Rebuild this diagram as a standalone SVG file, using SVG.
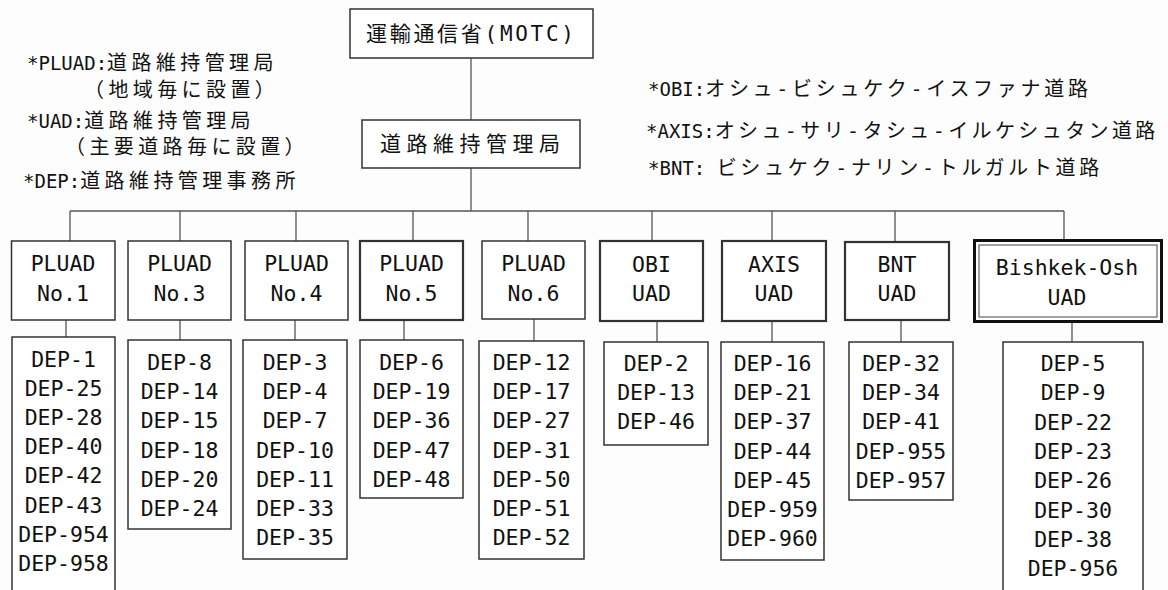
<svg xmlns="http://www.w3.org/2000/svg" width="1168" height="590" viewBox="0 0 1168 590">
<style>
.bg{fill:#fdfdfd}
.box{fill:#fff;stroke:#333;stroke-width:1.5}
.thick{stroke-width:2.2}
.conn line{stroke:#555;stroke-width:1.3}
.lbl{font-family:"DejaVu Sans Mono","Liberation Mono",monospace;font-size:21.5px;fill:#111;text-anchor:middle}
.jp{font-family:"DejaVu Sans Mono","Noto Sans CJK JP",sans-serif;font-size:21px;fill:#111;text-anchor:middle}
.note{font-family:"DejaVu Sans Mono","Noto Sans CJK JP",monospace;font-size:20px;fill:#111}
.lat{font-size:19px}
.cjk{letter-spacing:3.7px}
.cjka{letter-spacing:3.4px}
.cjkl{letter-spacing:4.4px}
</style>
<rect class="bg" x="0" y="0" width="1168" height="590"/>

<g id="notes-left">
<text class="note" x="27" y="69.5"><tspan class="lat">*PLUAD:</tspan><tspan class="cjkl">道路維持管理局</tspan></text>
<text class="note cjkl" x="84" y="97">（地域毎に設置）</text>
<text class="note" x="27" y="127.5"><tspan class="lat">*UAD:</tspan><tspan class="cjkl">道路維持管理局</tspan></text>
<text class="note cjkl" x="65" y="154">（主要道路毎に設置）</text>
<text class="note" x="23" y="187.5"><tspan class="lat">*DEP:</tspan><tspan class="cjkl">道路維持管理事務所</tspan></text>
</g>

<g id="notes-right">
<text class="note" x="648" y="95.5"><tspan class="lat">*OBI:</tspan><tspan class="cjk">オシュ-ビシュケク-イスファナ道路</tspan></text>
<text class="note" x="646" y="137.5"><tspan class="lat">*AXIS:</tspan><tspan class="cjka">オシュ-サリ-タシュ-イルケシュタン道路</tspan></text>
<text class="note" x="648" y="174.5"><tspan class="lat">*BNT: </tspan><tspan class="cjk">ビシュケク-ナリン-トルガルト道路</tspan></text>
</g>

<g id="connectors" class="conn">
<line x1="471" y1="58" x2="471" y2="120"/>
<line x1="471" y1="168" x2="471" y2="211"/>
<line x1="70" y1="211" x2="1064" y2="211"/>
<line x1="70" y1="211" x2="70" y2="241"/>
<line x1="180" y1="211" x2="180" y2="241"/>
<line x1="296" y1="211" x2="296" y2="241"/>
<line x1="413" y1="211" x2="413" y2="241"/>
<line x1="528" y1="211" x2="528" y2="241"/>
<line x1="652" y1="211" x2="652" y2="241"/>
<line x1="772" y1="211" x2="772" y2="241"/>
<line x1="895" y1="211" x2="895" y2="242"/>
<line x1="1064" y1="211" x2="1064" y2="239"/>
<line x1="66" y1="320" x2="66" y2="337"/>
<line x1="180" y1="320" x2="180" y2="340"/>
<line x1="295" y1="320" x2="295" y2="340"/>
<line x1="404" y1="320" x2="404" y2="340"/>
<line x1="534" y1="319" x2="534" y2="341"/>
<line x1="657" y1="321" x2="657" y2="342"/>
<line x1="772" y1="321" x2="772" y2="342"/>
<line x1="901" y1="320" x2="901" y2="342"/>
<line x1="1072" y1="323" x2="1072" y2="342"/>
</g>

<g id="motc">
<rect class="box" x="350" y="9" width="243" height="49"/>
<text class="jp" x="470" y="41" textLength="208" lengthAdjust="spacing">運輸通信省(MOTC)</text>
</g>
<g id="doro">
<rect class="box" x="362" y="120" width="218" height="48"/>
<text class="jp" x="470" y="151" textLength="180" lengthAdjust="spacing">道路維持管理局</text>
</g>

<g id="pluad1">
<rect class="box" x="11.5" y="241" width="103.5" height="79"/>
<text class="lbl" x="63" y="271">PLUAD</text>
<text class="lbl" x="63" y="301">No.1</text>
</g>
<g id="pluad3">
<rect class="box" x="128" y="241" width="103" height="79"/>
<text class="lbl" x="179.5" y="271">PLUAD</text>
<text class="lbl" x="179.5" y="301">No.3</text>
</g>
<g id="pluad4">
<rect class="box" x="245" y="241" width="103" height="79"/>
<text class="lbl" x="296.5" y="271">PLUAD</text>
<text class="lbl" x="296.5" y="301">No.4</text>
</g>
<g id="pluad5">
<rect class="box thick" x="360" y="241" width="103" height="79"/>
<text class="lbl" x="411.5" y="271">PLUAD</text>
<text class="lbl" x="411.5" y="301">No.5</text>
</g>
<g id="pluad6">
<rect class="box" x="482" y="241" width="103" height="78"/>
<text class="lbl" x="533.5" y="271">PLUAD</text>
<text class="lbl" x="533.5" y="301">No.6</text>
</g>
<g id="obi">
<rect class="box thick" x="600" y="241" width="103" height="80"/>
<text class="lbl" x="651.5" y="272">OBI</text>
<text class="lbl" x="651.5" y="301">UAD</text>
</g>
<g id="axis">
<rect class="box thick" x="722" y="241" width="104" height="80"/>
<text class="lbl" x="774" y="272">AXIS</text>
<text class="lbl" x="774" y="301">UAD</text>
</g>
<g id="bnt">
<rect class="box thick" x="845" y="242" width="104" height="78"/>
<text class="lbl" x="897" y="272">BNT</text>
<text class="lbl" x="897" y="301">UAD</text>
</g>
<g id="bishkek-osh">
<rect x="974.5" y="240.5" width="187" height="81" fill="#fff" stroke="#111" stroke-width="3"/>
<rect x="979" y="245" width="178" height="72" fill="none" stroke="#444" stroke-width="1"/>
<text class="lbl" x="1067" y="275">Bishkek-Osh</text>
<text class="lbl" x="1067" y="305">UAD</text>
</g>

<g id="dep-pluad1">
<rect class="box" x="12" y="337" width="103" height="270"/>
<text class="lbl" x="63.5" y="367">DEP-1</text>
<text class="lbl" x="63.5" y="396.1">DEP-25</text>
<text class="lbl" x="63.5" y="425.2">DEP-28</text>
<text class="lbl" x="63.5" y="454.3">DEP-40</text>
<text class="lbl" x="63.5" y="483.4">DEP-42</text>
<text class="lbl" x="63.5" y="512.5">DEP-43</text>
<text class="lbl" x="63.5" y="541.6">DEP-954</text>
<text class="lbl" x="63.5" y="570.7">DEP-958</text>
</g>
<g id="dep-pluad3">
<rect class="box" x="128" y="340" width="103" height="189"/>
<text class="lbl" x="179.5" y="370">DEP-8</text>
<text class="lbl" x="179.5" y="399.2">DEP-14</text>
<text class="lbl" x="179.5" y="428.4">DEP-15</text>
<text class="lbl" x="179.5" y="457.6">DEP-18</text>
<text class="lbl" x="179.5" y="486.8">DEP-20</text>
<text class="lbl" x="179.5" y="516">DEP-24</text>
</g>
<g id="dep-pluad4">
<rect class="box" x="243" y="340" width="104" height="219"/>
<text class="lbl" x="295" y="370">DEP-3</text>
<text class="lbl" x="295" y="399.2">DEP-4</text>
<text class="lbl" x="295" y="428.4">DEP-7</text>
<text class="lbl" x="295" y="457.6">DEP-10</text>
<text class="lbl" x="295" y="486.8">DEP-11</text>
<text class="lbl" x="295" y="516">DEP-33</text>
<text class="lbl" x="295" y="545.2">DEP-35</text>
</g>
<g id="dep-pluad5">
<rect class="box" x="360" y="340" width="103" height="158"/>
<text class="lbl" x="411.5" y="370">DEP-6</text>
<text class="lbl" x="411.5" y="399.2">DEP-19</text>
<text class="lbl" x="411.5" y="428.4">DEP-36</text>
<text class="lbl" x="411.5" y="457.6">DEP-47</text>
<text class="lbl" x="411.5" y="486.8">DEP-48</text>
</g>
<g id="dep-pluad6">
<rect class="box" x="479" y="341" width="105" height="218"/>
<text class="lbl" x="531.5" y="370">DEP-12</text>
<text class="lbl" x="531.5" y="399.2">DEP-17</text>
<text class="lbl" x="531.5" y="428.4">DEP-27</text>
<text class="lbl" x="531.5" y="457.6">DEP-31</text>
<text class="lbl" x="531.5" y="486.8">DEP-50</text>
<text class="lbl" x="531.5" y="516">DEP-51</text>
<text class="lbl" x="531.5" y="545.2">DEP-52</text>
</g>
<g id="dep-obi">
<rect class="box" x="604" y="342" width="104" height="103"/>
<text class="lbl" x="656" y="371">DEP-2</text>
<text class="lbl" x="656" y="400.2">DEP-13</text>
<text class="lbl" x="656" y="429.4">DEP-46</text>
</g>
<g id="dep-axis">
<rect class="box" x="721" y="342" width="103" height="218"/>
<text class="lbl" x="772.5" y="371">DEP-16</text>
<text class="lbl" x="772.5" y="400.2">DEP-21</text>
<text class="lbl" x="772.5" y="429.4">DEP-37</text>
<text class="lbl" x="772.5" y="458.6">DEP-44</text>
<text class="lbl" x="772.5" y="487.8">DEP-45</text>
<text class="lbl" x="772.5" y="517">DEP-959</text>
<text class="lbl" x="772.5" y="546.2">DEP-960</text>
</g>
<g id="dep-bnt">
<rect class="box" x="849" y="342" width="104" height="158"/>
<text class="lbl" x="901" y="371">DEP-32</text>
<text class="lbl" x="901" y="400.2">DEP-34</text>
<text class="lbl" x="901" y="429.4">DEP-41</text>
<text class="lbl" x="901" y="458.6">DEP-955</text>
<text class="lbl" x="901" y="487.8">DEP-957</text>
</g>
<g id="dep-bishkek-osh">
<rect class="box" x="1003" y="342" width="140" height="270"/>
<text class="lbl" x="1073" y="371">DEP-5</text>
<text class="lbl" x="1073" y="400.3">DEP-9</text>
<text class="lbl" x="1073" y="429.6">DEP-22</text>
<text class="lbl" x="1073" y="458.9">DEP-23</text>
<text class="lbl" x="1073" y="488.2">DEP-26</text>
<text class="lbl" x="1073" y="517.5">DEP-30</text>
<text class="lbl" x="1073" y="546.8">DEP-38</text>
<text class="lbl" x="1073" y="576.1">DEP-956</text>
</g>
</svg>
